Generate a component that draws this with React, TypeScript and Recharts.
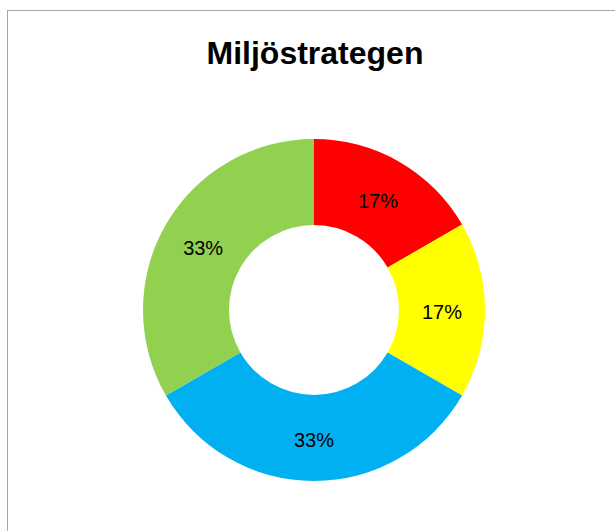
import { PieChart, Pie, Cell } from "recharts";

const categories = ["Röd", "Gul", "Blå", "Grön"];
const values = [1, 1, 2, 2];
const COLORS = ["#ff0000", "#ffff00", "#00b0f0", "#92d050"];

const data = categories.map((name, i) => ({ name, value: values[i] }));

const RAD = Math.PI / 180;

const renderLabel = (props: any) => {
  const { cx, cy, midAngle, innerRadius, outerRadius, percent } = props;
  const r = (innerRadius + outerRadius) / 2;
  const x = cx + r * Math.cos(-midAngle * RAD);
  const y = cy + r * Math.sin(-midAngle * RAD) + 2;
  return (
    <text
      x={x}
      y={y}
      textAnchor="middle"
      dominantBaseline="central"
      fill="#000"
      fontSize={20}
      fontFamily="'Liberation Sans', Arial, sans-serif"
    >
      {`${Math.round(percent * 100)}%`}
    </text>
  );
};

export default function App() {
  return (
    <div
      style={{
        position: "absolute",
        left: 0,
        top: 0,
        width: 615,
        height: 531,
        overflow: "hidden",
        background: "#fff",
      }}
    >
      <div
        style={{
          position: "absolute",
          left: 7,
          top: 10,
          width: 640,
          height: 560,
          border: "1.5px solid #a6a6a6",
        }}
      />
      <div
        style={{
          position: "absolute",
          left: 0,
          top: 35,
          width: 630,
          textAlign: "center",
          fontFamily: "'Liberation Sans', Arial, sans-serif",
          fontWeight: "bold",
          fontSize: 32,
          color: "#000",
        }}
      >
        Miljöstrategen
      </div>
      <div style={{ position: "absolute", left: 0, top: 0 }}>
        <PieChart
          width={615}
          height={531}
          margin={{ top: 0, right: 0, bottom: 0, left: 0 }}
        >
          <Pie
            data={data}
            dataKey="value"
            nameKey="name"
            cx={314}
            cy={310}
            innerRadius={85}
            outerRadius={171}
            startAngle={90}
            endAngle={-270}
            stroke="none"
            label={renderLabel}
            labelLine={false}
            isAnimationActive={false}
          >
            {data.map((_, i) => (
              <Cell key={i} fill={COLORS[i]} />
            ))}
          </Pie>
        </PieChart>
      </div>
    </div>
  );
}
